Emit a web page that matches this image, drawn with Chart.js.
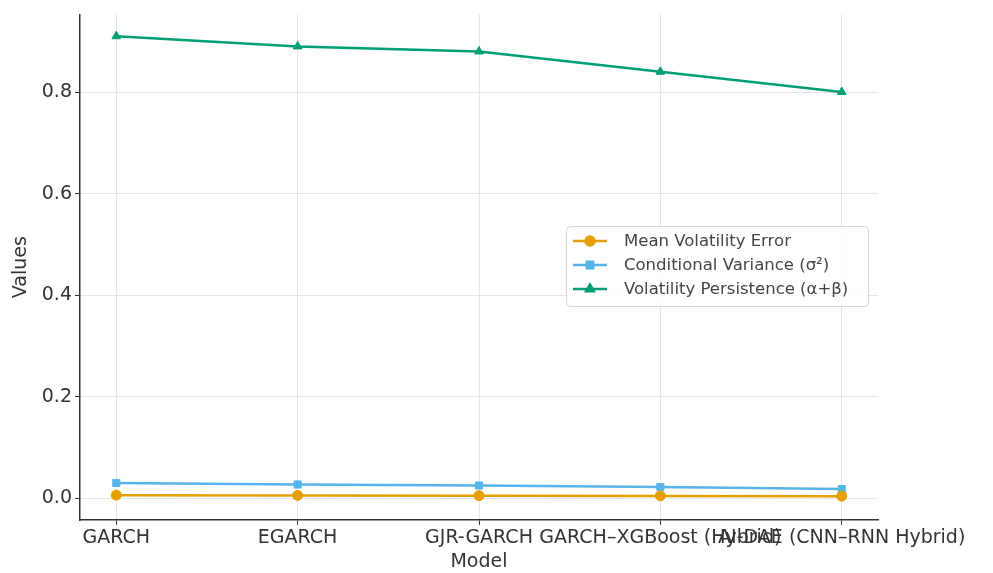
<!DOCTYPE html>
<html>
<head>
<meta charset="utf-8">
<script src="https://cdn.jsdelivr.net/npm/chart.js@4"></script>
<style>
  html, body { margin: 0; padding: 0; background: #fff; }
  #wrap { width: 993px; height: 573px; }
</style>
</head>
<body>
<div id="wrap"><canvas id="chart-1" width="993" height="573"></canvas></div>
<script>
// categories on the x axis
var models = ["GARCH", "EGARCH", "GJR-GARCH", "GARCH\u2013XGBoost (Hybrid)", "AI-DAE (CNN\u2013RNN Hybrid)"];
// series values
var mean_vol_error = [0.006, 0.0055, 0.005, 0.0045, 0.004];
var cond_variance = [0.030, 0.027, 0.025, 0.022, 0.018];
var vol_persistence = [0.91, 0.89, 0.88, 0.84, 0.80];
// y tick labels
var y_ticks = [0.0, 0.2, 0.4, 0.6, 0.8];

var series_names = ["Mean Volatility Error", "Conditional Variance (\u03c3\u00b2)", "Volatility Persistence (\u03b1+\u03b2)"];
var colors = ["#E69F00", "#56B4E9", "#009E73"];
var markers = ["circle", "rect", "triangle"];

function toPoints(arr) {
  return arr.map(function (v, i) { return { x: i, y: v }; });
}

var FONT = "'DejaVu Sans', sans-serif";

// legend drawn inside the plot area, like the original
var insideLegend = {
  id: "insideLegend",
  afterDraw: function (chart) {
    var ctx = chart.ctx;
    var x = 566, y = 226, w = 302, h = 80;
    ctx.save();
    ctx.fillStyle = "rgba(255,255,255,0.85)";
    ctx.strokeStyle = "#d6d6d6";
    ctx.lineWidth = 1;
    ctx.beginPath();
    ctx.roundRect(x + 0.5, y + 0.5, w, h, 4);
    ctx.fill();
    ctx.stroke();
    ctx.font = "16.5px " + FONT;
    ctx.textBaseline = "middle";
    for (var i = 0; i < series_names.length; i++) {
      var cy = y + 15 + i * 24;
      ctx.strokeStyle = colors[i];
      ctx.lineWidth = 2.5;
      ctx.beginPath();
      ctx.moveTo(573, cy);
      ctx.lineTo(607, cy);
      ctx.stroke();
      Chart.helpers.drawPoint(ctx, {
        pointStyle: markers[i], radius: 4.5, borderWidth: 1
      }, 590, cy);
      ctx.fillStyle = colors[i];
      ctx.fill();
      ctx.fillStyle = "#444";
      ctx.fillText(series_names[i], 624, cy + 1);
    }
    ctx.restore();
  }
};

var datas = [mean_vol_error, cond_variance, vol_persistence];
var datasets = datas.map(function (d, i) {
  return {
    label: series_names[i],
    data: toPoints(d),
    borderColor: colors[i],
    backgroundColor: colors[i],
    borderWidth: 2.5,
    pointStyle: markers[i],
    pointRadius: 5,
    pointBorderWidth: 1,
    pointBorderColor: colors[i],
    tension: 0
  };
});

const ctx = document.getElementById("chart-1").getContext("2d");
const myChart = new Chart(ctx, {
  type: "line",
  data: { datasets: datasets },
  plugins: [insideLegend],
  options: {
    responsive: false,
    animation: false,
    layout: { padding: { top: 12, right: 115, left: 0, bottom: 0 } },
    plugins: {
      legend: { display: false },
      tooltip: { enabled: false }
    },
    scales: {
      x: {
        type: "linear",
        min: -0.2,
        max: 4.2,
        afterBuildTicks: function (scale) {
          scale.ticks = models.map(function (m, i) { return { value: i }; });
        },
        afterFit: function (scale) { scale.height = 53; },
        ticks: {
          autoSkip: false,
          maxRotation: 0,
          minRotation: 0,
          padding: 2,
          color: "#333",
          font: { family: FONT, size: 19 },
          callback: function (v) { return models[v]; }
        },
        grid: { color: "#e6e6e6", tickColor: "#333", tickLength: 5 },
        border: { display: true, color: "#333", width: 1.5 },
        title: {
          display: true,
          text: "Model",
          color: "#333",
          font: { family: FONT, size: 19 },
          padding: { top: 0, bottom: 0 }
        }
      },
      y: {
        min: -0.043,
        max: 0.953,
        afterBuildTicks: function (scale) {
          scale.ticks = y_ticks.map(function (v) { return { value: v }; });
        },
        afterFit: function (scale) { scale.width = 80; },
        ticks: {
          padding: 3,
          color: "#333",
          font: { family: FONT, size: 19 },
          callback: function (v) { return v.toFixed(1); }
        },
        grid: { color: "#e6e6e6", tickColor: "#333", tickLength: 5 },
        border: { display: true, color: "#333", width: 1.5 },
        title: {
          display: true,
          text: "Values",
          color: "#333",
          font: { family: FONT, size: 19 },
          padding: { top: 10, bottom: 0 }
        }
      }
    }
  }
});
</script>
</body>
</html>
